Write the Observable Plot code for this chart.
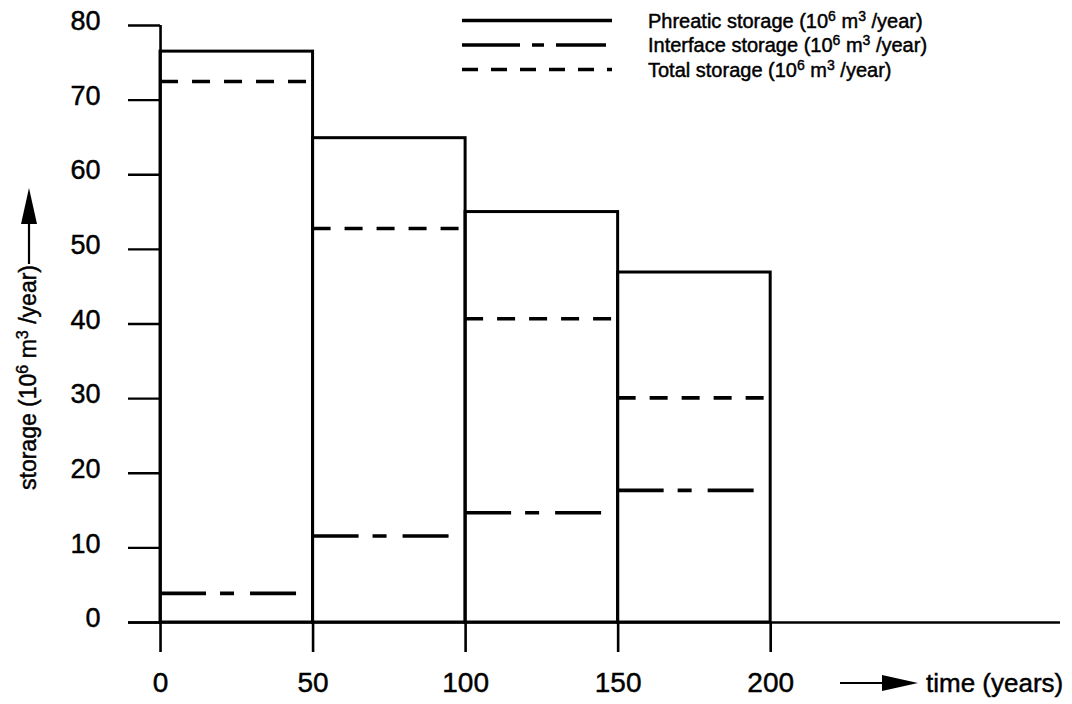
<!DOCTYPE html>
<html><head><meta charset="utf-8">
<script src="https://cdn.jsdelivr.net/npm/d3@7"></script>
<script src="https://cdn.jsdelivr.net/npm/@observablehq/plot@0.6"></script>
<style>
body{margin:0;background:#fff;}
#wrap{position:relative;width:1072px;height:704px;font-family:"Liberation Sans",Arial,Helvetica,sans-serif;}
#wrap svg{position:absolute;left:0;top:0;}
#wrap text{stroke:#000;stroke-width:0.45px;}
</style></head><body><div id="wrap"></div>
<script>
// Data
const periodStart = [0, 50, 100, 150];
const periodEnd = [50, 100, 150, 200];
const phreatic = [76.5, 64.9, 55.0, 46.9];
const interfaceStorage = [3.9, 11.6, 14.7, 17.7];
const totalStorage = [72.5, 52.8, 40.7, 30.1];
const xTicks = [0, 50, 100, 150, 200];
const yTicks = [0, 10, 20, 30, 40, 50, 60, 70, 80];
const xExtent = [-10.5, 295];
const seriesNames = ["Phreatic storage", "Interface storage", "Total storage"];
const unitText = {base: "10", exp1: "6", mid: " m", exp2: "3", tail: " /year)"};

const rows = periodStart.map((s, i) => ({
  start: s, end: periodEnd[i],
  phreatic: phreatic[i], iface: interfaceStorage[i], total: totalStorage[i]
}));

const W = 1072, H = 704;
const chart = Plot.plot({
  width: W, height: H,
  marginLeft: 128, marginRight: 12, marginTop: 25, marginBottom: 82,
  style: {fontFamily: '"Liberation Sans", Arial, sans-serif', color: "#000", background: "#fff"},
  x: {domain: xExtent},
  y: {domain: [0, 80]},
  marks: [
    Plot.ruleY([0], {x1: xExtent[0], x2: xExtent[1], stroke: "#000", strokeWidth: 2.6}),
    Plot.ruleX([0], {y1: 0, y2: 80, stroke: "#000", strokeWidth: 2.6}),
    Plot.ruleY(yTicks, {x1: xExtent[0], x2: 0, stroke: "#000", strokeWidth: 2.4}),
    Plot.axisY({ticks: yTicks, tickSize: 0, tickPadding: 28, fontSize: 27, dy: -4, label: null}),
    Plot.axisX({ticks: xTicks, tickSize: 30, tickPadding: 20, fontSize: 28, strokeWidth: 2.6, label: null}),
    Plot.rectY(rows, {x1: "start", x2: "end", y: "phreatic", fill: "none", stroke: "#000", strokeWidth: 3}),
    Plot.ruleY(rows, {x1: "start", x2: "end", y: "total", stroke: "#000", strokeWidth: 3.6, strokeDasharray: "18,14"}),
    Plot.ruleY(rows, {x1: "start", x2: "end", y: "iface", stroke: "#000", strokeWidth: 3.6, strokeDasharray: "46,14,14,16,46,200"})
  ]
});
document.getElementById("wrap").appendChild(chart);

// Overlay: legend and axis labels with arrows
const ov = d3.select("#wrap").append("svg").attr("width", W).attr("height", H)
  .style("font-family", '"Liberation Sans", Arial, sans-serif').style("pointer-events", "none");

function unitLabel(sel, prefix, fs) {
  sel.append("tspan").text(prefix + " (" + unitText.base);
  sel.append("tspan").attr("dy", -fs * 0.34).attr("font-size", fs * 0.7).text(unitText.exp1);
  sel.append("tspan").attr("dy", fs * 0.34).text(unitText.mid);
  sel.append("tspan").attr("dy", -fs * 0.34).attr("font-size", fs * 0.7).text(unitText.exp2);
  sel.append("tspan").attr("dy", fs * 0.34).text(unitText.tail);
}

const legendDash = [null, "58,12,12,12,50,40", "16,13"];
const lg = ov.append("g");
seriesNames.forEach((name, i) => {
  const y = 20.5 + i * 24.5;
  lg.append("line").attr("x1", 462).attr("x2", 612).attr("y1", y).attr("y2", y)
    .attr("stroke", "#000").attr("stroke-width", 3.4).attr("stroke-dasharray", legendDash[i]);
  const t = lg.append("text").attr("x", 648).attr("y", y + 7).attr("font-size", 20).attr("fill", "#000");
  unitLabel(t, name, 20);
});

// x label
const xl = ov.append("g");
xl.append("line").attr("x1", 840).attr("x2", 888).attr("y1", 683).attr("y2", 683).attr("stroke", "#000").attr("stroke-width", 2.2);
xl.append("path").attr("d", "M882,675 L918,683 L882,691 Z").attr("fill", "#000");
xl.append("text").attr("x", 926).attr("y", 692).attr("font-size", 26).attr("fill", "#000").text("time (years)");

// y label (rotated)
const yl = ov.append("g").attr("transform", "translate(36,490) rotate(-90)");
const yt = yl.append("text").attr("x", 0).attr("y", 0).attr("font-size", 23).attr("fill", "#000");
unitLabel(yt, "storage", 23);
yl.append("line").attr("x1", 226).attr("x2", 272).attr("y1", -7).attr("y2", -7).attr("stroke", "#000").attr("stroke-width", 2.2);
yl.append("path").attr("d", "M266,-15 L302,-7 L266,1 Z").attr("fill", "#000");
</script></body></html>
